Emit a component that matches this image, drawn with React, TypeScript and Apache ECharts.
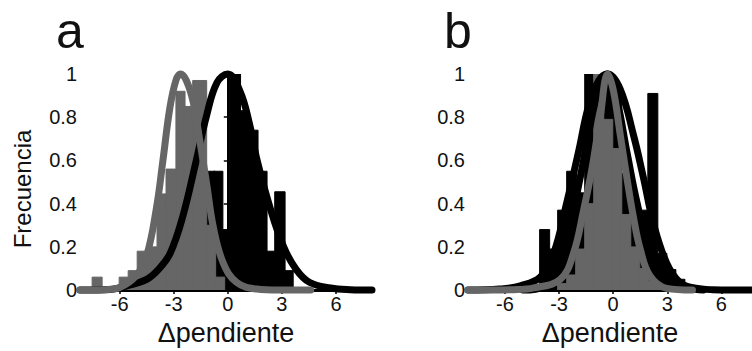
import React, { useEffect, useRef } from "react";
import * as echarts from "echarts";

// ---- data (bins: [left edge, right edge, relative frequency]) ----
const grayBinsA = [
  [-7.5, -7.0, 0.06], [-6.0, -5.5, 0.06], [-5.5, -5.0, 0.09], [-5.0, -4.45, 0.18],
  [-4.45, -3.9, 0.2], [-3.9, -3.4, 0.445], [-3.4, -2.85, 0.56], [-2.85, -2.4, 0.92],
  [-2.4, -1.92, 0.85], [-1.92, -1.2, 0.97], [-1.2, -0.7, 0.3], [-0.7, -0.2, 0.06],
];
const blackBinsA = [
  [-1.2, -0.75, 0.55], [-0.75, -0.3, 0.55], [-0.3, 0.12, 0.28], [0.12, 0.68, 1.0],
  [0.68, 1.15, 0.83], [1.15, 1.65, 0.74], [1.65, 2.15, 0.55], [2.15, 2.63, 0.18],
  [2.63, 3.15, 0.455], [3.15, 3.6, 0.09],
];
const blackCurveA = [
  [-8.2, 0], [-6.5, 0.003], [-5.6, 0.02], [-4.5, 0.05], [-3.8, 0.1], [-3.2, 0.17],
  [-2.5, 0.34], [-1.75, 0.6], [-1.17, 0.81], [-0.6, 0.96], [0, 1.0], [0.68, 0.92],
  [1.2, 0.77], [1.6, 0.61], [2.35, 0.38], [3.1, 0.2], [3.8, 0.095], [4.55, 0.035],
  [5.7, 0.01], [6.8, 0.002], [8, 0],
];
const grayCurveA = [
  [-8.2, 0], [-6.8, 0.002], [-6.0, 0.012], [-5.1, 0.065], [-4.5, 0.16], [-3.96, 0.38],
  [-3.6, 0.6], [-3.22, 0.84], [-2.88, 0.97], [-2.62, 1.0], [-2.3, 0.97], [-1.92, 0.87],
  [-1.55, 0.69], [-1.17, 0.49], [-0.8, 0.29], [-0.25, 0.125], [0.5, 0.035], [1.6, 0.005],
  [2.8, 0], [4.6, 0],
];

const grayBinsB = [
  [-3.05, -2.55, 0.03], [-2.55, -2.05, 0.07], [-2.05, -1.55, 0.19], [-1.55, -1.05, 0.4],
  [-1.05, -0.55, 1.0], [-0.55, -0.05, 0.79], [-0.05, 0.45, 0.655], [0.45, 0.95, 0.35],
  [0.95, 1.45, 0.2], [1.45, 1.95, 0.1], [1.95, 2.45, 0.04], [2.45, 2.95, 0.02],
];
const blackBinsB = [
  [-4.05, -3.55, 0.28], [-3.55, -3.05, 0.19], [-3.05, -2.55, 0.37], [-2.55, -2.05, 0.55],
  [-2.05, -1.55, 0.45], [-1.55, -1.05, 1.0], [-1.05, -0.55, 0.7], [-0.55, -0.05, 0.98],
  [-0.05, 0.45, 0.9], [0.45, 0.95, 0.54], [0.95, 1.45, 0.4], [1.45, 1.95, 0.37],
  [1.95, 2.45, 0.91], [2.45, 2.95, 0.17], [2.95, 3.45, 0.095], [3.45, 3.95, 0.05],
];
const blackOuterCurveB = [
  [-8.05, 0], [-6.3, 0.005], [-5.15, 0.02], [-4.04, 0.06], [-3.3, 0.17], [-2.56, 0.41],
  [-1.92, 0.64], [-1.37, 0.85], [-0.8, 0.97], [-0.3, 1.0], [0.39, 0.93], [1.12, 0.72],
  [1.68, 0.52], [2.23, 0.31], [2.97, 0.125], [3.71, 0.035], [4.5, 0.01], [5.5, 0.002],
  [7.7, 0],
];
const blackInnerCurveB = [
  [-5.0, 0], [-3.86, 0.015], [-3.12, 0.11], [-2.38, 0.31], [-1.83, 0.52], [-1.37, 0.72],
  [-0.9, 0.9], [-0.35, 1.0], [0.2, 0.88], [0.76, 0.64], [1.31, 0.41], [1.87, 0.23],
  [2.6, 0.095], [3.34, 0.04], [4.2, 0.01], [5.0, 0],
];
const grayCurveB = [
  [-8.05, 0], [-5.5, 0.002], [-4.4, 0.01], [-2.93, 0.05], [-2.2, 0.17], [-1.64, 0.37],
  [-1.18, 0.56], [-0.72, 0.8], [-0.3, 1.0], [0.02, 0.92], [0.39, 0.72], [0.76, 0.52],
  [1.12, 0.34], [1.5, 0.19], [2.05, 0.065], [2.97, 0.008], [4.4, 0],
];

const xTicks = [-6, -3, 0, 3, 6];
const panelLabels = ["a", "b"];
const xName = "Δpendiente";
const yName = "Frecuencia";

const FONT = "'Liberation Sans', Arial, Helvetica, sans-serif";
const GRAY = "#666666";
const BLACK = "#000000";

function histSeries(data: number[][], color: string, idx: number, z: number) {
  return {
    type: "custom",
    xAxisIndex: idx,
    yAxisIndex: idx,
    z,
    clip: true,
    encode: { x: [0, 1], y: 2 },
    data,
    renderItem: (params: any, api: any) => {
      const x0 = api.value(0);
      const x1 = api.value(1);
      const h = api.value(2);
      const p0 = api.coord([x0, 0]);
      const p1 = api.coord([x1, h]);
      return {
        type: "rect",
        shape: { x: p0[0] - 0.5, y: p1[1], width: p1[0] - p0[0] + 1, height: p0[1] - p1[1] },
        style: { fill: color, stroke: color, lineWidth: 1 },
      };
    },
  };
}

function curveSeries(data: number[][], color: string, idx: number, z: number) {
  return {
    type: "line",
    xAxisIndex: idx,
    yAxisIndex: idx,
    z,
    data,
    smooth: 0.4,
    showSymbol: false,
    symbol: "none",
    clip: false,
    lineStyle: { color, width: 7, cap: "round", join: "round" },
  };
}

function xAxis(idx: number, min: number, max: number) {
  return {
    type: "value",
    gridIndex: idx,
    min,
    max,
    axisLine: { show: true, onZero: false, lineStyle: { color: BLACK, width: 3 } },
    axisTick: { show: true, customValues: xTicks, length: 4, lineStyle: { color: BLACK, width: 1.5 } },
    axisLabel: { customValues: xTicks, fontSize: 20, color: "#111", margin: 4, fontFamily: FONT },
    splitLine: { show: false },
    name: xName,
    nameLocation: "middle",
    nameGap: 25,
    nameTextStyle: { fontSize: 27, color: "#111", fontFamily: FONT },
    z: 1,
  };
}

function yAxis(idx: number) {
  return {
    type: "value",
    gridIndex: idx,
    min: 0,
    max: 1,
    interval: 0.2,
    axisLine: { show: true, lineStyle: { color: BLACK, width: 2 } },
    axisTick: { show: true, length: 4, lineStyle: { color: BLACK, width: 1.5 } },
    axisLabel: {
      fontSize: 20,
      color: "#111",
      margin: 3,
      fontFamily: FONT,
      formatter: (v: number) => (v === 0 ? "0" : v === 1 ? "1" : v.toFixed(1)),
    },
    splitLine: { show: false },
    z: 1,
  };
}

export default function App() {
  const ref = useRef<HTMLDivElement>(null);
  useEffect(() => {
    document.body.style.margin = "0";
    const chart = echarts.init(ref.current as HTMLDivElement, undefined, { renderer: "svg" });
    chart.setOption({
      animation: false,
      backgroundColor: "#ffffff",
      grid: [
        { left: 80, top: 74, width: 292, height: 220 },
        { left: 468, top: 74, width: 284, height: 220 },
      ],
      xAxis: [xAxis(0, -8.2, 8), xAxis(1, -8.05, 7.7)],
      yAxis: [yAxis(0), yAxis(1)],
      graphic: [
        {
          type: "text",
          x: 56,
          y: 6,
          style: { text: panelLabels[0], fontSize: 50, fill: "#111", fontFamily: FONT, verticalAlign: "top" },
        },
        {
          type: "text",
          x: 444,
          y: 6,
          style: { text: panelLabels[1], fontSize: 50, fill: "#111", fontFamily: FONT, verticalAlign: "top" },
        },
        {
          type: "text",
          x: 22,
          y: 189,
          rotation: Math.PI / 2,
          style: {
            text: yName,
            fontSize: 24,
            fill: "#111",
            fontFamily: FONT,
            align: "center",
            verticalAlign: "middle",
          },
        },
      ],
      series: [
        histSeries(blackBinsA, BLACK, 0, 2),
        histSeries(grayBinsA, GRAY, 0, 3),
        curveSeries(blackCurveA, BLACK, 0, 4),
        curveSeries(grayCurveA, GRAY, 0, 5),
        histSeries(blackBinsB, BLACK, 1, 2),
        histSeries(grayBinsB, GRAY, 1, 3),
        curveSeries(blackOuterCurveB, BLACK, 1, 4),
        curveSeries(blackInnerCurveB, BLACK, 1, 4),
        curveSeries(grayCurveB, GRAY, 1, 5),
      ],
    });
    return () => chart.dispose();
  }, []);
  return (
    <div
      ref={ref}
      style={{ position: "fixed", left: 0, top: 0, width: 752, height: 351, background: "#fff" }}
    />
  );
}
